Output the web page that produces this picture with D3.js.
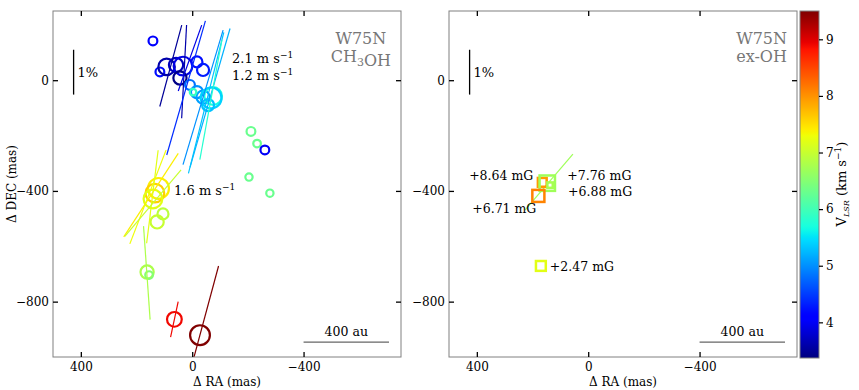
<!DOCTYPE html>
<html>
<head>
<meta charset="utf-8">
<script src="https://cdn.jsdelivr.net/npm/d3@7"></script>
<style>
  body { margin: 0; background: #fff; }
  text { font-family: "DejaVu Serif", serif; }
</style>
</head>
<body>
<svg id="chart" width="859" height="390"></svg>
<script>
// ---- data ----
const raTicks = [400, 0, -400];
const decTicks = [0, -400, -800];
const vlsrTicks = [4, 5, 6, 7, 8, 9];
const vlsrRange = [3.37, 9.5];

// CH3OH maser spots: offsets in mas, V_LSR in km/s, peak flux (Jy/beam)
const ch3ohSpots = [
    { ra: 141, dec: 142, v: 4.1, flux: 16 },
    { ra: 116, dec: 30, v: 4.2, flux: 16 },
    { ra: 92, dec: 48, v: 3.6, flux: 56 },
    { ra: 58, dec: 55, v: 3.7, flux: 42 },
    { ra: 33, dec: 51, v: 3.9, flux: 72 },
    { ra: 44, dec: 8, v: 3.4, flux: 36 },
    { ra: -17, dec: 66, v: 4.2, flux: 25 },
    { ra: -39, dec: 37, v: 4.3, flux: 30 },
    { ra: 8, dec: -17, v: 4.8, flux: 20 },
    { ra: -17, dec: -43, v: 5.0, flux: 30 },
    { ra: -39, dec: -61, v: 5.1, flux: 36 },
    { ra: -75, dec: -57, v: 5.7, flux: 64 },
    { ra: -68, dec: -64, v: 5.4, flux: 90 },
    { ra: -57, dec: -90, v: 5.3, flux: 30 },
    { ra: -3, dec: -43, v: 5.9, flux: 9 },
    { ra: -211, dec: -185, v: 6.3, flux: 16 },
    { ra: -233, dec: -229, v: 6.3, flux: 12 },
    { ra: -261, dec: -252, v: 4.0, flux: 16 },
    { ra: -204, dec: -350, v: 6.3, flux: 11 },
    { ra: -279, dec: -408, v: 6.3, flux: 11 },
    { ra: 121, dec: -391, v: 7.4, flux: 90 },
    { ra: 134, dec: -408, v: 7.6, flux: 72 },
    { ra: 141, dec: -429, v: 7.2, flux: 72 },
    { ra: 105, dec: -483, v: 6.9, flux: 25 },
    { ra: 126, dec: -512, v: 7.0, flux: 36 },
    { ra: 162, dec: -693, v: 6.8, flux: 36 },
    { ra: 155, dec: -704, v: 6.5, flux: 12 },
    { ra: 64, dec: -864, v: 8.9, flux: 45 },
    { ra: -28, dec: -921, v: 9.5, flux: 81 }
];

// CH3OH linear polarization vectors: pl in %, pa in degrees (east of north)
const ch3ohVectors = [
    { ra: 77, dec: 52, v: 3.5, pl: 1.88, pa: -15 },
    { ra: 29, dec: 31, v: 3.6, pl: 2.08, pa: -3 },
    { ra: 8, dec: 80, v: 3.9, pl: 1.56, pa: -19.5 },
    { ra: 22, dec: -28, v: 4.4, pl: 3.11, pa: -16 },
    { ra: -64, dec: -64, v: 5.2, pl: 3.22, pa: -16 },
    { ra: -39, dec: -62, v: 5.0, pl: 3.13, pa: -16.5 },
    { ra: -50, dec: -82, v: 5.3, pl: 3.24, pa: -14 },
    { ra: -67, dec: -71, v: 5.8, pl: 2.71, pa: -10.4 },
    { ra: 148, dec: -415, v: 7.4, pl: 2.22, pa: -33 },
    { ra: 159, dec: -422, v: 7.3, pl: 2.24, pa: -21 },
    { ra: 143, dec: -421, v: 7.2, pl: 2.09, pa: -7 },
    { ra: 141, dec: -444, v: 7.0, pl: 1.94, pa: -40 },
    { ra: 163, dec: -696, v: 6.8, pl: 2.09, pa: 4 },
    { ra: 64, dec: -864, v: 8.9, pl: 0.81, pa: -12 },
    { ra: -28, dec: -920, v: 9.5, pl: 3.18, pa: -15 }
];

// velocity notes in the CH3OH panel
const velocityNotes = [
    { ra: -143, dec: 62, text: "2.1" },
    { ra: -143, dec: 0, text: "1.2" },
    { ra: 65, dec: -415, text: "1.6" }
];

// excited OH spots with Zeeman field
const ohSpots = [
    { ra: 165, dec: -369, v: 7.95, flux: 16, bz: "+8.64 mG" },
    { ra: 147, dec: -372, v: 6.7, flux: 49, bz: "+7.76 mG" },
    { ra: 137, dec: -379, v: 6.75, flux: 6, bz: "+6.88 mG" },
    { ra: 179, dec: -418, v: 8.1, flux: 30, bz: "+6.71 mG" },
    { ra: 170, dec: -671, v: 7.2, flux: 20, bz: "+2.47 mG" }
];
const ohLabelPlace = [
    { dx: -9, dy: -2, anchor: "end" },
    { dx: 20, dy: -3, anchor: "start" },
    { dx: 18, dy: 11, anchor: "start" },
    { dx: -2, dy: 17, anchor: "end" },
    { dx: 9, dy: 5, anchor: "start" }
];
const ohVectors = [
    { ra: 141, dec: -368, v: 6.7, pl: 1.64, pa: -40.4 }
];

// ---- layout ----
const svg = d3.select("#chart");
const panelW = 348, panelH = 346;
const masPerPct = 162;
const frameColor = "#808080";

// jet colour map
const jetR = d3.scaleLinear().domain([0, 0.35, 0.66, 0.89, 1]).range([0, 0, 1, 1, 0.5]).clamp(true);
const jetG = d3.scaleLinear().domain([0, 0.125, 0.375, 0.64, 0.91, 1]).range([0, 0, 1, 1, 0, 0]).clamp(true);
const jetB = d3.scaleLinear().domain([0, 0.11, 0.34, 0.65, 1]).range([0.5, 1, 1, 0, 0]).clamp(true);
const jet = t => d3.rgb(jetR(t) * 255, jetG(t) * 255, jetB(t) * 255).formatHex();
const vNorm = d3.scaleLinear().domain(vlsrRange).range([0, 1]);
const color = v => jet(vNorm(v));

const rScale = d3.scaleSqrt().domain([0, 100]).range([0, 11]);

function unitText(sel, value) {
    sel.append("tspan").text(value + " m s");
    sel.append("tspan").attr("dy", -5).attr("font-size", 9).text("\u22121");
}

function drawPanel(ox, oy, id, titleLines, showYLabel) {
    const g = svg.append("g").attr("transform", `translate(${ox},${oy})`);
    const x = d3.scaleLinear().domain([500, -750]).range([0, panelW]);
    const y = d3.scaleLinear().domain([-1000, 250]).range([panelH, 0]);

    g.append("clipPath").attr("id", "clip-" + id)
        .append("rect").attr("width", panelW).attr("height", panelH);
    const plot = g.append("g").attr("clip-path", `url(#clip-${id})`);

    g.append("rect").attr("width", panelW).attr("height", panelH)
        .attr("fill", "none").attr("stroke", frameColor).attr("stroke-width", 1);

    const axes = [
        [d3.axisBottom(x).tickValues(raTicks).tickPadding(5), `translate(0,${panelH})`],
        [d3.axisTop(x).tickValues(raTicks).tickFormat(() => ""), null],
        [d3.axisLeft(y).tickValues(decTicks).tickPadding(4), null],
        [d3.axisRight(y).tickValues(decTicks).tickFormat(() => ""), `translate(${panelW},0)`]
    ];
    axes.forEach(([ax, tr]) => {
        const a = g.append("g").call(ax.tickSizeInner(-5).tickSizeOuter(0));
        if (tr) a.attr("transform", tr);
        a.select(".domain").remove();
        a.selectAll(".tick line").attr("stroke", "#000").attr("stroke-width", 1.3);
        a.selectAll(".tick text").attr("font-size", 12).attr("fill", "#000")
            .style("font-family", "DejaVu Serif");
    });

    g.append("text").attr("x", panelW / 2).attr("y", panelH + 29)
        .attr("text-anchor", "middle").attr("font-size", 12).text("\u0394 RA (mas)");
    if (showYLabel) {
        g.append("text").attr("transform", `translate(${-37},${panelH / 2}) rotate(-90)`)
            .attr("text-anchor", "middle").attr("font-size", 12).text("\u0394 DEC (mas)");
    }

    // title block (lines centred on each other, block at the upper right)
    const title = g.append("g").attr("fill", "#777").attr("font-size", 16);
    const t1 = title.append("text").attr("y", 33).attr("text-anchor", "middle").text(titleLines[0]);
    const t2 = title.append("text").attr("y", 51).attr("text-anchor", "middle");
    titleLines[1].forEach(part => {
        if (part.sub) {
            t2.append("tspan").attr("dy", 4).attr("font-size", 11).text(part.sub);
            t2.append("tspan").attr("dy", -4).text("");
        } else {
            t2.append("tspan").text(part.t);
        }
    });
    const wMax = Math.max(t1.node().getComputedTextLength(), t2.node().getComputedTextLength());
    title.selectAll("text").attr("x", panelW - 10 - wMax / 2);

    // 1% polarization bar
    g.append("line")
        .attr("x1", x(426)).attr("x2", x(426))
        .attr("y1", y(110)).attr("y2", y(110 - masPerPct))
        .attr("stroke", "#000").attr("stroke-width", 1.3);
    g.append("text").attr("x", x(426) + 4).attr("y", y(110 - masPerPct / 2) + 5)
        .attr("font-size", 13).text("1%");

    // 400 au bar
    g.append("line")
        .attr("x1", x(-400)).attr("x2", x(-707))
        .attr("y1", y(-946)).attr("y2", y(-946))
        .attr("stroke", "#666").attr("stroke-width", 1.2);
    g.append("text").attr("x", (x(-400) + x(-707)) / 2).attr("y", y(-946) - 6)
        .attr("text-anchor", "middle").attr("font-size", 12.5).text("400 au");

    return { g, plot, x, y };
}

function drawVectors(p, data) {
    p.plot.selectAll(null).data(data).enter().append("line")
        .each(function (d) {
            const h = d.pl * masPerPct / 2, a = d.pa * Math.PI / 180;
            d3.select(this)
                .attr("x1", p.x(d.ra + h * Math.sin(a))).attr("y1", p.y(d.dec + h * Math.cos(a)))
                .attr("x2", p.x(d.ra - h * Math.sin(a))).attr("y2", p.y(d.dec - h * Math.cos(a)));
        })
        .attr("stroke", d => color(d.v)).attr("stroke-width", 1.2);
}

// ---- left panel: CH3OH ----
const left = drawPanel(53, 11, "l", ["W75N", [{ t: "CH" }, { sub: "3" }, { t: "OH" }]], true);

left.plot.selectAll(null).data(ch3ohSpots).enter().append("circle")
    .attr("cx", d => left.x(d.ra)).attr("cy", d => left.y(d.dec))
    .attr("r", d => rScale(d.flux))
    .attr("fill", "none").attr("stroke", d => color(d.v)).attr("stroke-width", 2.2);
drawVectors(left, ch3ohVectors);

velocityNotes.forEach(n => {
    const t = left.g.append("text").attr("x", left.x(n.ra)).attr("y", left.y(n.dec))
        .attr("font-size", 13);
    unitText(t, n.text);
});

// ---- right panel: excited OH ----
const right = drawPanel(449, 11, "r", ["W75N", [{ t: "ex-OH" }]], false);

drawVectors(right, ohVectors);
right.plot.selectAll(null).data(ohSpots).enter().append("rect")
    .attr("x", d => right.x(d.ra) - rScale(d.flux)).attr("y", d => right.y(d.dec) - rScale(d.flux))
    .attr("width", d => 2 * rScale(d.flux)).attr("height", d => 2 * rScale(d.flux))
    .attr("fill", "none").attr("stroke", d => color(d.v)).attr("stroke-width", 2.5);
right.g.selectAll(null).data(ohSpots).enter().append("text")
    .attr("x", (d, i) => right.x(d.ra) + ohLabelPlace[i].dx)
    .attr("y", (d, i) => right.y(d.dec) + ohLabelPlace[i].dy)
    .attr("text-anchor", (d, i) => ohLabelPlace[i].anchor)
    .attr("font-size", 12.5).text(d => d.bz);

// ---- colour bar ----
const cbX = 800, cbW = 19, cbTop = 11, cbBottom = 358;
const defs = svg.append("defs");
const grad = defs.append("linearGradient").attr("id", "jetGrad")
    .attr("x1", 0).attr("y1", 1).attr("x2", 0).attr("y2", 0);
d3.range(0, 1.0001, 0.01).forEach(t => {
    grad.append("stop").attr("offset", t).attr("stop-color", jet(t));
});
svg.append("rect").attr("x", cbX).attr("y", cbTop).attr("width", cbW).attr("height", cbBottom - cbTop)
    .attr("fill", "url(#jetGrad)").attr("stroke", frameColor).attr("stroke-width", 1);
const cbScale = d3.scaleLinear().domain(vlsrRange).range([cbBottom, cbTop]);
const cbAxis = svg.append("g").attr("transform", `translate(${cbX + cbW},0)`)
    .call(d3.axisRight(cbScale).tickValues(vlsrTicks).tickFormat(d3.format("d"))
        .tickSizeInner(4).tickSizeOuter(0).tickPadding(3));
cbAxis.select(".domain").remove();
cbAxis.selectAll(".tick line").attr("stroke", "#000").attr("stroke-width", 1.2);
cbAxis.selectAll(".tick text").attr("font-size", 12).attr("fill", "#000").style("font-family", "DejaVu Serif");

const cbLabel = svg.append("text").attr("transform", `translate(846,184) rotate(-90)`)
    .attr("text-anchor", "middle").attr("font-size", 13);
cbLabel.append("tspan").text("V");
cbLabel.append("tspan").attr("dy", 3).attr("font-size", 8).attr("font-style", "italic").text("LSR");
cbLabel.append("tspan").attr("dy", -3).text(" (km s");
cbLabel.append("tspan").attr("dy", -5).attr("font-size", 9).text("\u22121");
cbLabel.append("tspan").attr("dy", 5).text(")");
</script>
</body>
</html>
